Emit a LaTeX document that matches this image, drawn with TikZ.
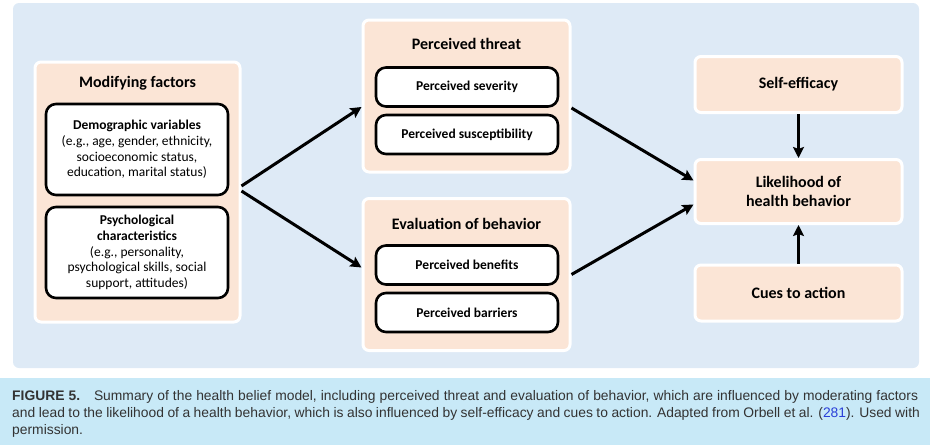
\documentclass[tikz,border=0pt]{standalone}
\usepackage{fontspec}
\setmainfont{Carlito}
\newfontfamily\capfont{Liberation Sans}
\usetikzlibrary{arrows.meta,calc}
\definecolor{panelblue}{HTML}{DEEAF6}
\definecolor{peach}{HTML}{FBE5D6}
\definecolor{capband}{HTML}{C8E9F7}
\definecolor{linkblue}{HTML}{2A3FD8}
\definecolor{captext}{HTML}{333333}
\tikzset{
  outerbox/.style={draw=white,line width=3pt,fill=peach,rounded corners=6pt,inner sep=0pt},
  innerbox/.style={draw=black,line width=2.6pt,fill=white,rounded corners=10pt,inner sep=0pt,
    minimum width=182pt,align=center},
  titletext/.style={font=\fontsize{16}{18.5}\selectfont\bfseries,inner sep=0pt},
  smalltext/.style={font=\fontsize{13.5}{15}\selectfont\bfseries},
  bodytext/.style={font=\fontsize{13.5}{15.7}\selectfont},
  arr/.style={line width=3pt,-{Stealth[length=11pt,width=11pt,inset=2pt]}},
  capline/.style={anchor=base west,inner sep=0pt,font=\capfont\fontsize{13.85}{16}\selectfont,text=captext}
}
\begin{document}
\begin{tikzpicture}[x=1pt,y=-1pt]
\useasboundingbox (0,0) rectangle (930,445);
% background panel
\fill[panelblue,rounded corners=6pt] (13,3) rectangle (919,368);
% caption band
\fill[capband] (0,378) rectangle (930,445);

% modifying factors
\node[outerbox,minimum width=205pt,minimum height=260pt] (mod) at (137.5,192) {};
\node[titletext] (modt) at (137.5,83) {Modifying factors};
\node[innerbox,bodytext,minimum height=91pt] (demo) at (137,149.5)
  {\textbf{Demographic variables}\\(e.g., age, gender, ethnicity,\\socioeconomic status,\\education, marital status)};
\node[innerbox,bodytext,minimum height=91pt] (psych) at (137,252.5)
  {\textbf{Psychological}\\\textbf{characteristics}\\(e.g., personality,\\psychological skills, social\\support, attitudes)};

% perceived threat
\node[outerbox,minimum width=207pt,minimum height=152pt] (threat) at (466.5,96) {};
\node[titletext] (threatt) at (466.5,44) {Perceived threat};
\node[innerbox,smalltext,minimum height=39pt] (sev) at (467,87) {Perceived severity};
\node[innerbox,smalltext,minimum height=39pt] (sus) at (467,134.5) {Perceived susceptibility};

% evaluation of behavior
\node[outerbox,minimum width=207pt,minimum height=152pt] (eval) at (466.5,274.5) {};
\node[titletext] (evalt) at (466.5,224) {Evaluation of behavior};
\node[innerbox,smalltext,minimum height=39pt] (ben) at (467,265) {Perceived benefits};
\node[innerbox,smalltext,minimum height=39pt] (bar) at (467,312.5) {Perceived barriers};

% right column
\node[outerbox,titletext,minimum width=207pt,minimum height=56pt] (self) at (798.5,84.5) {Self-efficacy};
\node[outerbox,titletext,minimum width=207pt,minimum height=64pt,align=center] (like) at (798.5,191.5) {Likelihood of\\health behavior};
\node[outerbox,titletext,minimum width=207pt,minimum height=56pt] (cues) at (798.5,293) {Cues to action};

% arrows
\draw[arr] ([yshift=6pt]mod.east) -- ([yshift=-11pt]threat.west);
\draw[arr] ([yshift=1pt]mod.east) -- ([yshift=7pt]eval.west);
\draw[arr] ([yshift=-12pt]threat.east) -- ([yshift=11pt]like.west);
\draw[arr] (eval.east) -- ([yshift=-13pt]like.west);
\draw[arr] (self.south) -- (like.north);
\draw[arr] (cues.north) -- (like.south);

% caption
\node[capline] (cap1) at (12,400) {\spaceskip=4.08pt\textbf{FIGURE 5.}\hspace{1em}Summary of the health belief model, including perceived threat and evaluation of behavior, which are influenced by moderating factors};
\node[capline] (cap2) at (12,417) {\spaceskip=3.5pt and lead to the likelihood of a health behavior, which is also influenced by self-efficacy and cues to action. Adapted from Orbell et al. ({\color{linkblue}281}). Used with};
\node[capline] (cap3) at (12,434) {permission.};
\end{tikzpicture}
\end{document}
